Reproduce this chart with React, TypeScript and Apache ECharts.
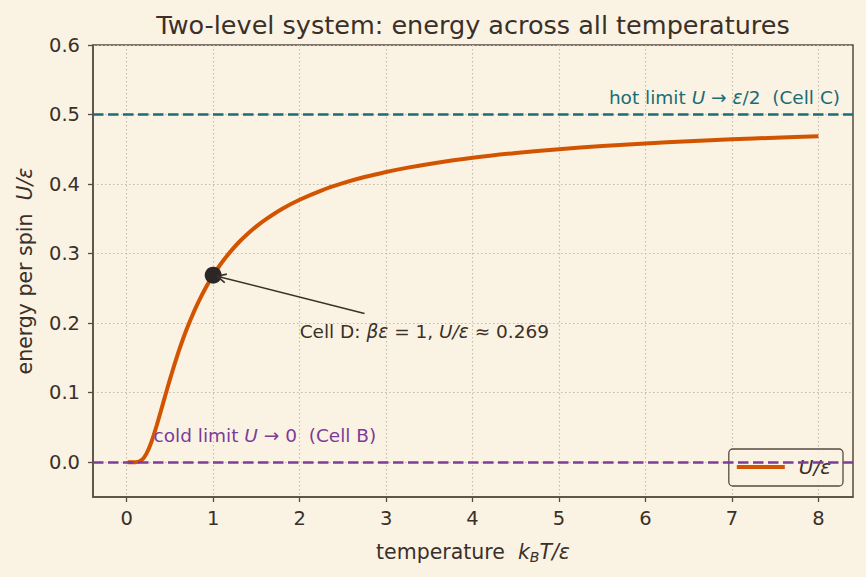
import { useEffect, useRef } from "react";
import * as echarts from "echarts";

// Two-level system: mean energy per spin U/ε against k_B T/ε
const temperatures = [
  0.01, 0.05, 0.1, 0.15, 0.2, 0.25, 0.3, 0.35, 0.4, 0.45, 0.5, 0.55, 0.6, 0.65,
  0.7, 0.75, 0.8, 0.85, 0.9, 0.95, 1.0, 1.1, 1.2, 1.3, 1.4, 1.5, 1.6, 1.8, 2.0,
  2.25, 2.5, 2.75, 3.0, 3.25, 3.5, 4.0, 4.5, 5.0, 5.5, 6.0, 6.5, 7.0, 7.5, 8.0,
];
const energies = [
  0.0, 0.0, 0.00005, 0.0013, 0.0067, 0.018, 0.0344, 0.0543, 0.0759, 0.0978,
  0.1192, 0.1397, 0.1589, 0.1768, 0.1933, 0.2086, 0.2227, 0.2357, 0.2477,
  0.2587, 0.2689, 0.2872, 0.3029, 0.3167, 0.3286, 0.3392, 0.3486, 0.3646,
  0.3775, 0.3907, 0.4013, 0.4101, 0.4174, 0.4237, 0.429, 0.4378, 0.4447, 0.4502,
  0.4547, 0.4584, 0.4616, 0.4643, 0.4667, 0.4688,
];
const xTickValues = [0, 1, 2, 3, 4, 5, 6, 7, 8];
const yTickValues = [0, 0.1, 0.2, 0.3, 0.4, 0.5, 0.6];
const hotLimit = 0.5;
const coldLimit = 0;
const cellD = [1.0, 0.269];

const FONT = "DejaVu Sans";
const BG = "#faf3e3";
const INK = "#3a3029";
const SPINE = "#574b42";
const GRIDC = "#c4bbac";
const ORANGE = "#d35400";
const TEAL = "#1b6c76";
const PURPLE = "#7d3c98";

export default function App() {
  const ref = useRef<HTMLDivElement>(null);

  useEffect(() => {
    const chart = echarts.init(ref.current!, null, { renderer: "svg" });

    const axisCommon = {
      axisLine: { show: true, onZero: false, lineStyle: { color: SPINE, width: 1.5 } },
      axisTick: { show: true, length: 5, lineStyle: { color: SPINE, width: 1.3 } },
      splitLine: { show: true, lineStyle: { color: GRIDC, type: [1.5, 2.5], width: 1.1 } },
    };

    chart.setOption({
      animation: false,
      backgroundColor: BG,
      title: {
        text: "Two-level system: energy across all temperatures",
        left: 468,
        textAlign: "center",
        top: 7,
        textStyle: { fontFamily: FONT, fontSize: 25.5, fontWeight: "normal", color: INK },
      },
      grid: {
        left: 93,
        right: 13,
        top: 45,
        bottom: 80,
        show: true,
        borderColor: SPINE,
        borderWidth: 1.5,
        backgroundColor: "transparent",
      },
      xAxis: {
        type: "value",
        min: -0.39,
        max: 8.4,
        ...axisCommon,
        axisTick: { ...axisCommon.axisTick, customValues: xTickValues },
        axisLabel: {
          customValues: xTickValues,
          fontFamily: FONT,
          fontSize: 19.5,
          color: INK,
          margin: 11,
        },
        name: "temperature  {i|k}{s|B}{i|T/ε}",
        nameLocation: "middle",
        nameGap: 43,
        nameTextStyle: {
          fontFamily: FONT,
          fontSize: 20.5,
          color: INK,
          rich: {
            i: { fontFamily: FONT, fontSize: 20.5, fontStyle: "italic", color: INK },
            s: { fontFamily: FONT, fontSize: 14, fontStyle: "italic", color: INK, padding: [10, 0, 0, 0] },
          },
        },
      },
      yAxis: {
        type: "value",
        min: -0.05,
        max: 0.6,
        ...axisCommon,
        axisTick: { ...axisCommon.axisTick, customValues: yTickValues },
        axisLabel: {
          customValues: yTickValues,
          fontFamily: FONT,
          fontSize: 19.5,
          color: INK,
          margin: 13,
          formatter: (v: number) => v.toFixed(1),
        },
        name: "energy per spin  {i|U/ε}",
        nameLocation: "middle",
        nameGap: 58,
        nameTextStyle: {
          fontFamily: FONT,
          fontSize: 20.5,
          color: INK,
          rich: {
            i: { fontFamily: FONT, fontSize: 20.5, fontStyle: "italic", color: INK },
          },
        },
      },
      legend: {
        right: 23,
        bottom: 91,
        data: [{ name: "U/ε", icon: "rect" }],
        itemWidth: 48,
        itemHeight: 4,
        itemGap: 10,
        padding: [8, 12, 9, 8],
        borderColor: SPINE,
        borderWidth: 1.3,
        borderRadius: 4,
        backgroundColor: "rgba(250,243,227,0.8)",
        formatter: "{i|U/ε}",
        textStyle: {
          rich: {
            i: { fontFamily: FONT, fontSize: 20, fontStyle: "italic", color: INK, padding: [0, 0, 0, 9] },
          },
        },
      },
      series: [
        {
          name: "limits",
          type: "line",
          data: [],
          silent: true,
          markLine: {
            silent: true,
            symbol: ["none", "none"],
            label: { show: false },
            data: [
              { yAxis: hotLimit, lineStyle: { color: TEAL, type: [10.5, 4.5], width: 2.6 } },
              { yAxis: coldLimit, lineStyle: { color: PURPLE, type: [10.5, 4.5], width: 2.6 } },
            ],
          },
        },
        {
          name: "U/ε",
          type: "line",
          data: temperatures.map((t, i) => [t, energies[i]]),
          showSymbol: false,
          smooth: 0.25,
          lineStyle: { color: ORANGE, width: 4 },
          itemStyle: { color: ORANGE },
          z: 3,
        },
        {
          name: "Cell D",
          type: "scatter",
          data: [cellD],
          symbolSize: 17,
          itemStyle: { color: "#2c2626", opacity: 1 },
          z: 4,
        },
      ],
    });

    // annotation texts and arrow, placed through the axes
    const px = (x: number, y: number) => chart.convertToPixel({ gridIndex: 0 }, [x, y]) as number[];
    const hot = px(8.25, 0.525);
    const cold = px(0.31, 0.039);
    const dText = px(2.0, 0.188);
    const mark = px(cellD[0], cellD[1]);
    const tail = px(2.75, 0.214);
    const dx = tail[0] - mark[0];
    const dy = tail[1] - mark[1];
    const len = Math.hypot(dx, dy);
    const ux = dx / len;
    const uy = dy / len;
    const tip = [mark[0] + ux * 4, mark[1] + uy * 4];
    const head = 10;
    const ang = 0.45;
    const rot = (a: number) => [
      tip[0] + head * (ux * Math.cos(a) - uy * Math.sin(a)),
      tip[1] + head * (ux * Math.sin(a) + uy * Math.cos(a)),
    ];

    const richMath = (color: string) => ({
      n: { fontFamily: FONT, fontSize: 18.5, fill: color },
      i: { fontFamily: FONT, fontSize: 18.5, fontStyle: "italic", fill: color },
    });

    chart.setOption({
      graphic: [
        {
          type: "text",
          x: hot[0],
          y: hot[1],
          z: 10,
          style: {
            text: "{n|hot limit }{i|U}{n| → }{i|ε}{n|/2  (Cell C)}",
            align: "right",
            verticalAlign: "middle",
            fill: TEAL,
            rich: richMath(TEAL),
          },
        },
        {
          type: "text",
          x: cold[0],
          y: cold[1],
          z: 10,
          style: {
            text: "{n|cold limit }{i|U}{n| → 0  (Cell B)}",
            align: "left",
            verticalAlign: "middle",
            fill: PURPLE,
            rich: richMath(PURPLE),
          },
        },
        {
          type: "text",
          x: dText[0],
          y: dText[1],
          z: 10,
          style: {
            text: "{n|Cell D: }{i|βε}{n| = 1, }{i|U/ε}{n| ≈ 0.269}",
            align: "left",
            verticalAlign: "middle",
            fill: INK,
            rich: richMath(INK),
          },
        },
        {
          type: "line",
          z: 10,
          shape: { x1: tail[0], y1: tail[1], x2: tip[0], y2: tip[1] },
          style: { stroke: INK, lineWidth: 1.6 },
        },
        {
          type: "polyline",
          z: 10,
          shape: { points: [rot(ang), tip, rot(-ang)] },
          style: { stroke: INK, lineWidth: 1.6, fill: null },
        },
      ],
    });

    return () => chart.dispose();
  }, []);

  return (
    <div
      ref={ref}
      style={{ position: "absolute", left: 0, top: 0, width: 866, height: 577 }}
    />
  );
}
